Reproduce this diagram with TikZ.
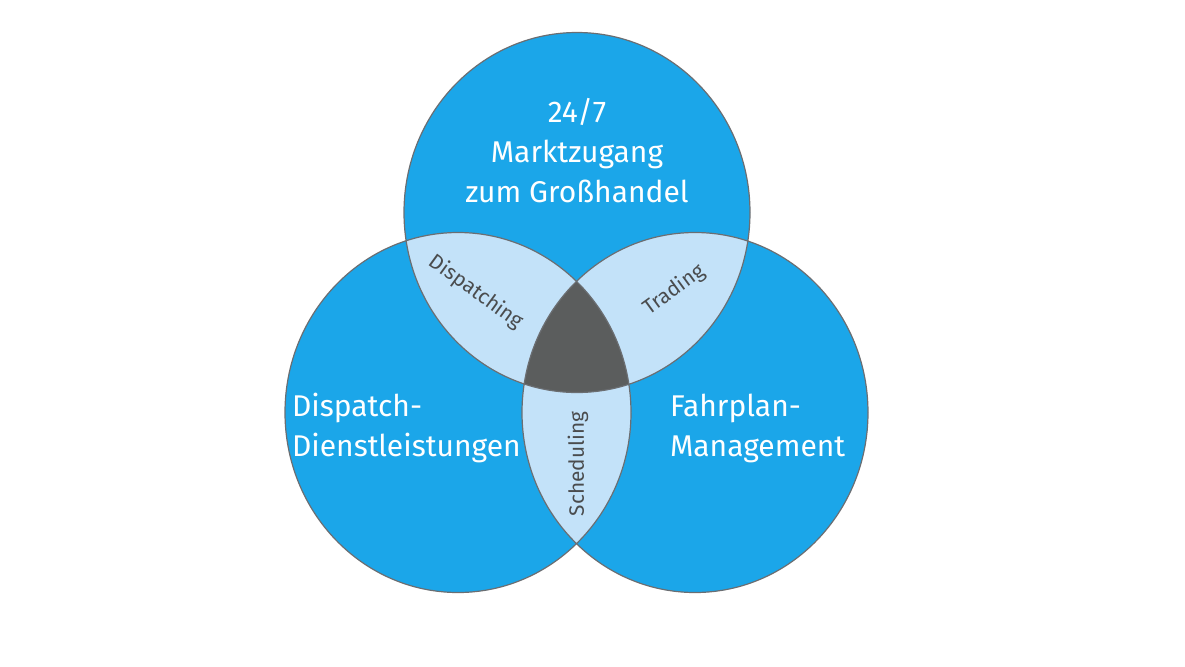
\documentclass[tikz,border=0pt]{standalone}
\usepackage{fontspec}
\setmainfont{Fira Sans}
\usepackage{tikz}
\usetikzlibrary{calc}

\definecolor{setblue}{HTML}{1BA6E9}
\definecolor{lensblue}{HTML}{C3E2F9}
\definecolor{coregray}{HTML}{5B5D5D}
\definecolor{rimgray}{HTML}{6B6E72}
\definecolor{labelgray}{HTML}{4A4C4E}

\begin{document}
\begin{tikzpicture}[x=0.5pt,y=-0.5pt,
	ring/.style={x radius=86.5pt,y radius=90pt},
	bigtext/.style={text=white,font=\fontsize{15}{20}\selectfont},
	lenstext/.style={text=labelgray,inner sep=0pt,font=\fontsize{10.4}{12}\selectfont}]
	\useasboundingbox (0,0) rectangle (1185,666);
	\coordinate (ma) at (577,212.5);
	\coordinate (di) at (458,412.5);
	\coordinate (fa) at (695,412.5);
	% the three sets
	\fill[setblue] (ma) ellipse [ring] (di) ellipse [ring] (fa) ellipse [ring];
	% pairwise overlaps
	\begin{scope}
		\clip (ma) ellipse [ring];
		\fill[lensblue] (di) ellipse [ring] (fa) ellipse [ring];
	\end{scope}
	\begin{scope}
		\clip (di) ellipse [ring];
		\fill[lensblue] (fa) ellipse [ring];
	\end{scope}
	% common core
	\begin{scope}
		\clip (ma) ellipse [ring];
		\clip (di) ellipse [ring];
		\fill[coregray] (fa) ellipse [ring];
	\end{scope}
	\draw[rimgray,line width=0.6pt] (ma) ellipse [ring] (di) ellipse [ring] (fa) ellipse [ring];
	% labels
	\node[bigtext,align=center] (markt) at (577,151) {24/7\\Marktzugang\\zum Großhandel};
	\node[bigtext,align=left,anchor=west] (dienst) at (285,428) {Dispatch-\\Dienstleistungen};
	\node[bigtext,align=left,anchor=west] (plan) at (663,428) {Fahrplan-\\Management};
	\node[lenstext,rotate=-36] (disp) at (476,292) {Dispatching};
	\node[lenstext,rotate=36] (trade) at (674,290) {Trading};
	\node[lenstext,rotate=90] (sched) at (578,464) {Scheduling};
\end{tikzpicture}
\end{document}
